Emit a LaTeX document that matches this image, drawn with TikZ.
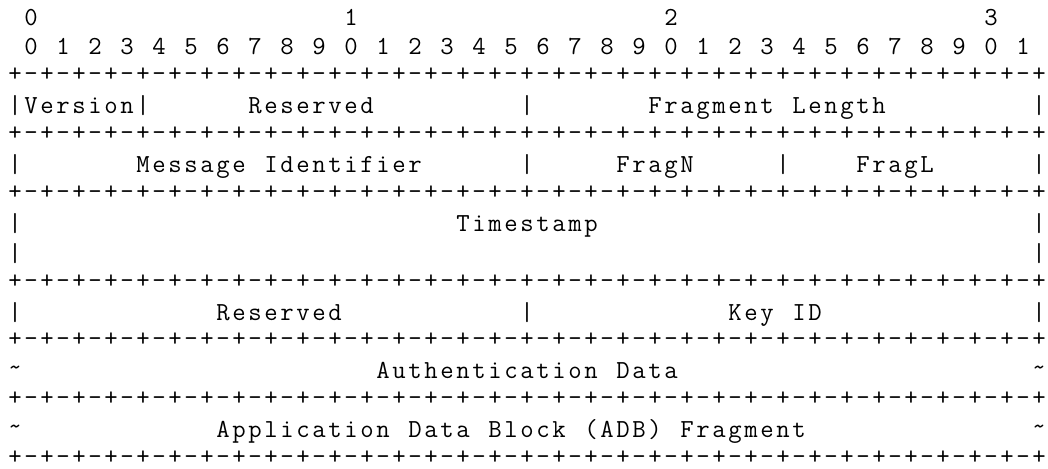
\documentclass[tikz,border=0pt]{standalone}
\usepackage{fontspec}
\ExplSyntaxOn
\NewDocumentCommand\cells{m}{\tl_map_inline:nn {#1} {\hbox_to_wd:nn {16pt} {\hss ##1\hss}}}
\ExplSyntaxOff
\tikzset{
  txt/.style={anchor=base west, inner sep=0pt, outer sep=0pt, font=\ttfamily\fontsize{26pt}{29.45pt}\selectfont, text=black},
  bordertxt/.style={txt, yshift=2.5pt},
}
\newcommand\bordertext{\cells{+-+-+-+-+-+-+-+-+-+-+-+-+-+-+-+-+-+-+-+-+-+-+-+-+-+-+-+-+-+-+-+-+}}
\newcommand\tld{\raisebox{3pt}{\textasciitilde}}
\begin{document}
\begin{tikzpicture}
\useasboundingbox (0,0) rectangle (1048pt,-468pt);
\begin{scope}[x=16pt, y=-29.45pt, shift={(7pt,-25.5pt)}]
  % tens header
  \node[txt] (t0) at (1,0) {\cells{0}};
  \node[txt] (t1) at (21,0) {\cells{1}};
  \node[txt] (t2) at (41,0) {\cells{2}};
  \node[txt] (t3) at (61,0) {\cells{3}};
  % bit numbers
  \foreach \i in {0,...,31} {
    \pgfmathtruncatemacro\d{mod(\i,10)}
    \pgfmathtruncatemacro\c{2*\i+1}
    \node[txt] (bit\i) at (\c,1) {\cells{\d}};
  }
  % borders
  \foreach \r in {2,4,6,9,11,13,15} {
    \node[bordertxt] (border\r) at (0,\r) {\bordertext};
  }
  % row 3
  \node[txt] (v0) at (0,3) {\cells{|}};
  \node[txt] (version) at (1,3) {\cells{Version}};
  \node[txt] (v1) at (8,3) {\cells{|}};
  \node[txt] (reserved1) at (15,3) {\cells{Reserved}};
  \node[txt] (v2) at (32,3) {\cells{|}};
  \node[txt] (fraglen1) at (40,3) {\cells{Fragment}};
  \node[txt] (fraglen2) at (49,3) {\cells{Length}};
  \node[txt] (v3) at (64,3) {\cells{|}};
  % row 5
  \node[txt] (w0) at (0,5) {\cells{|}};
  \node[txt] (msgid1) at (8,5) {\cells{Message}};
  \node[txt] (msgid2) at (16,5) {\cells{Identifier}};
  \node[txt] (w1) at (32,5) {\cells{|}};
  \node[txt] (fragn) at (38,5) {\cells{FragN}};
  \node[txt] (w2) at (48,5) {\cells{|}};
  \node[txt] (fragl) at (53,5) {\cells{FragL}};
  \node[txt] (w3) at (64,5) {\cells{|}};
  % rows 7-8
  \node[txt] (x0) at (0,7) {\cells{|}};
  \node[txt] (timestamp) at (28,7) {\cells{Timestamp}};
  \node[txt] (x1) at (64,7) {\cells{|}};
  \node[txt] (y0) at (0,8) {\cells{|}};
  \node[txt] (y1) at (64,8) {\cells{|}};
  % row 10
  \node[txt] (z0) at (0,10) {\cells{|}};
  \node[txt] (reserved2) at (13,10) {\cells{Reserved}};
  \node[txt] (z1) at (32,10) {\cells{|}};
  \node[txt] (keyid1) at (45,10) {\cells{Key}};
  \node[txt] (keyid2) at (49,10) {\cells{ID}};
  \node[txt] (z2) at (64,10) {\cells{|}};
  % row 12
  \node[txt] (a0) at (0,12) {\cells{\tld}};
  \node[txt] (auth1) at (23,12) {\cells{Authentication}};
  \node[txt] (auth2) at (38,12) {\cells{Data}};
  \node[txt] (a1) at (64,12) {\cells{\tld}};
  % row 14
  \node[txt] (c0) at (0,14) {\cells{\tld}};
  \node[txt] (adb1) at (13,14) {\cells{Application}};
  \node[txt] (adb2) at (25,14) {\cells{Data}};
  \node[txt] (adb3) at (30,14) {\cells{Block}};
  \node[txt] (adb4) at (36,14) {\cells{(ADB)}};
  \node[txt] (adb5) at (42,14) {\cells{Fragment}};
  \node[txt] (c1) at (64,14) {\cells{\tld}};
\end{scope}
\end{tikzpicture}
\end{document}
